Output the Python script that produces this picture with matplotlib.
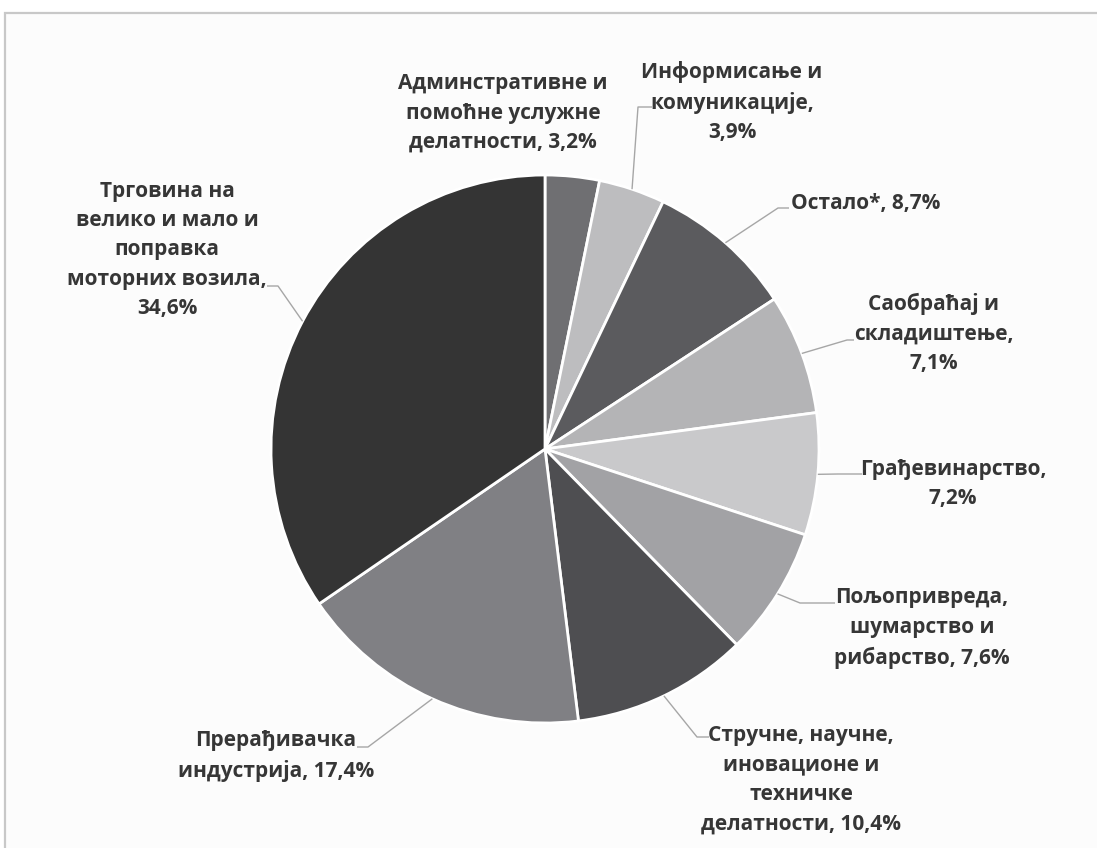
import matplotlib

matplotlib.use("Agg")
import numpy as np
from matplotlib import pyplot as plt
from matplotlib.patches import Rectangle

W, H = 1097, 848

labels = [
    "Админстративне и\nпомоћне услужне\nделатности, 3,2%",
    "Информисање и\nкомуникације,\n3,9%",
    "Остало*, 8,7%",
    "Саобраћај и\nскладиштење,\n7,1%",
    "Грађевинарство,\n7,2%",
    "Пољопривреда,\nшумарство и\nрибарство, 7,6%",
    "Стручне, научне,\nиновационе и\nтехничке\nделатности, 10,4%",
    "Прерађивачка\nиндустрија, 17,4%",
    "Трговина на\nвелико и мало и\nпоправка\nмоторних возила,\n34,6%",
]
shares = [3.2, 3.9, 8.7, 7.1, 7.2, 7.6, 10.4, 17.4, 34.6]
colors = [
    "#6f6f72", "#bdbdbf", "#5b5b5e", "#b4b4b6", "#c9c9cb",
    "#a2a2a5", "#4e4e51", "#808084", "#343434",
]

# label layout in image pixels: text centre, leader elbow, leader end
text_pos = [(503, 113), (732, 102), (866, 203), (934, 333), (953, 484),
            (922, 628), (801, 780), (276, 756), (167, 250)]
elbows = [None, (638, 107), (778, 208), (847, 340), (838, 474),
          (800, 603), (697, 737), (368, 747), (278, 286)]
ends = [None, (652, 107), (789, 208), (854, 340), (862, 474),
        (835, 603), (709, 737), (357, 747), (267, 286)]

CX, CY, R = 545, 449, 274
TEXT = "#363636"


def flip(p):
    return p[0], H - p[1]


fig = plt.figure(figsize=(W / 100, H / 100), dpi=100, facecolor="white")
ax = fig.add_axes([0, 0, 1, 1])

ax.add_patch(Rectangle((5, -20), W + 20, H - 13 + 20, facecolor="#fcfcfc",
                       edgecolor="#c8c8c8", linewidth=1.6, zorder=0))

wedges, _ = ax.pie(
    shares,
    colors=colors,
    startangle=90,
    counterclock=False,
    center=(CX, H - CY),
    radius=R,
    wedgeprops={"edgecolor": "white", "linewidth": 2.0},
)
for w in wedges:
    w.set_zorder(2)

for i, (w, lab) in enumerate(zip(wedges, labels)):
    if elbows[i] is not None:
        mid = np.deg2rad((w.theta1 + w.theta2) / 2)
        sx, sy = CX + R * np.cos(mid), (H - CY) + R * np.sin(mid)
        ex, ey = flip(elbows[i])
        fx, fy = flip(ends[i])
        ax.plot([sx, ex, fx], [sy, ey, fy], color="#a6a6a6", linewidth=1.0,
                zorder=3, solid_capstyle="butt")
    tx, ty = flip(text_pos[i])
    ax.text(tx, ty, lab, ha="center", va="center", multialignment="center",
            fontsize=15, fontweight="bold", family=["Open Sans", "DejaVu Sans"],
            color=TEXT, linespacing=1.53, zorder=4)

ax.set_xlim(0, W)
ax.set_ylim(0, H)
ax.set_aspect("equal")
ax.axis("off")

fig.savefig("out.png", dpi=100, facecolor="white")
